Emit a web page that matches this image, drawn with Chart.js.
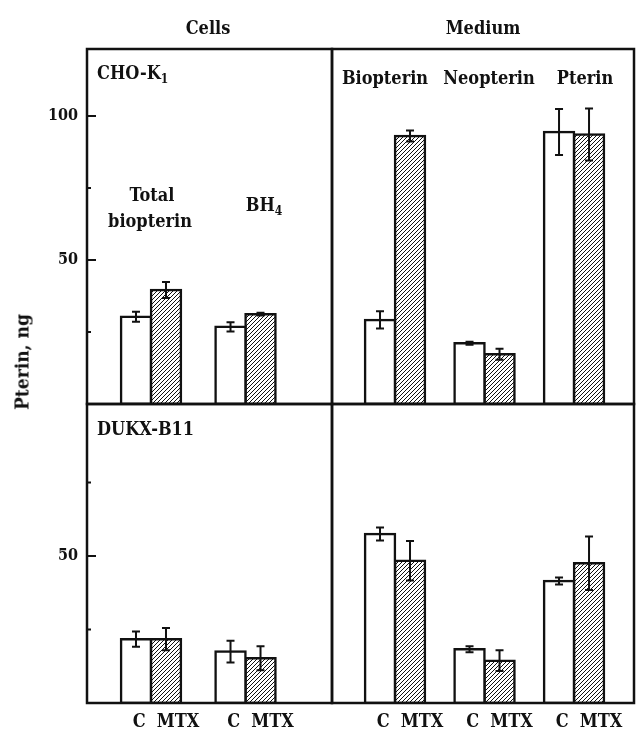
<!DOCTYPE html>
<html lang="en">
<head>
<meta charset="UTF-8">
<title>Pterin, ng - CHO-K1 and DUKX-B11</title>
<script src="https://cdn.jsdelivr.net/npm/chart.js"></script>
<style>
  body { margin: 0; background: #fff; }
  #wrap { position: relative; width: 636px; height: 731px; font-family: "DejaVu Serif Condensed", "DejaVu Serif", serif; font-weight: bold; color: #111; }
  #wrap canvas { position: absolute; left: 0; top: 0; }
  .lbl { position: absolute; white-space: nowrap; font-size: 18px; line-height: 1; }
  .c { transform: translateX(-50%); }
  sub { font-size: 12px; vertical-align: -4px; line-height: 0; }
</style>
</head>
<body>
<div id="wrap">
  <canvas id="choCells" width="636" height="731"></canvas>
  <canvas id="choMedium" width="636" height="731"></canvas>
  <canvas id="dukxCells" width="636" height="731"></canvas>
  <canvas id="dukxMedium" width="636" height="731"></canvas>

  <div class="lbl c" style="left:208px; top:19px">Cells</div>
  <div class="lbl c" style="left:483px; top:19px">Medium</div>
  <div class="lbl" style="left:97px; top:64px">CHO-K<sub>1</sub></div>
  <div class="lbl c" style="left:385px; top:69px">Biopterin</div>
  <div class="lbl c" style="left:489px; top:69px">Neopterin</div>
  <div class="lbl c" style="left:585px; top:69px">Pterin</div>
  <div class="lbl c" style="left:152px; top:186px">Total</div>
  <div class="lbl c" style="left:150px; top:212px">biopterin</div>
  <div class="lbl c" style="left:264px; top:196px">BH<sub>4</sub></div>
  <div class="lbl" style="left:97px; top:420px">DUKX-B11</div>
  <div class="lbl" style="left:22px; top:362px; font-size:19px; transform: translate(-50%, -50%) rotate(-90deg);">Pterin, ng</div>
</div>

<script>
    // categories
    const cellGroups = ["Total biopterin", "BH4"];
    const mediumGroups = ["Biopterin", "Neopterin", "Pterin"];
    const treatLabels = ["C", "MTX"];
    const topTicks = [25, 50, 75, 100];
    const bottomTicks = [25, 50, 75];
    const labeledTicks = [50, 100];

    // CHO-K1 (ng)
    const choCellsC = [30.3, 26.8];
    const choCellsCErr = [1.7, 1.6];
    const choCellsMTX = [39.6, 31.2];
    const choCellsMTXErr = [2.8, 0.5];
    const choMediumC = [29.2, 21.1, 94.5];
    const choMediumCErr = [3.0, 0.5, 8.0];
    const choMediumMTX = [93.1, 17.3, 93.6];
    const choMediumMTXErr = [1.9, 1.9, 9.0];

    // DUKX-B11 (ng)
    const dukxCellsC = [21.7, 17.5];
    const dukxCellsCErr = [2.6, 3.7];
    const dukxCellsMTX = [21.7, 15.2];
    const dukxCellsMTXErr = [3.8, 4.1];
    const dukxMediumC = [57.5, 18.3, 41.5];
    const dukxMediumCErr = [2.2, 1.0, 1.2];
    const dukxMediumMTX = [48.4, 14.4, 47.5];
    const dukxMediumMTXErr = [6.7, 3.5, 9.1];

    const ink = "#111";
    const serif = "'DejaVu Serif Condensed', 'DejaVu Serif', serif";

    function makeHatch() {
        const c = document.createElement("canvas");
        c.width = 4; c.height = 4;
        const g = c.getContext("2d");
        g.fillStyle = "#fff";
        g.fillRect(0, 0, 4, 4);
        g.strokeStyle = ink;
        g.lineWidth = 1.0;
        g.beginPath();
        g.moveTo(-1, 5); g.lineTo(5, -1);
        g.moveTo(-1, 1); g.lineTo(1, -1);
        g.moveTo(3, 5); g.lineTo(5, 3);
        g.stroke();
        return g.createPattern(c, "repeat");
    }
    const hatch = makeHatch();

    // vertical error bars with caps
    const errorBars = {
        id: "errorBars",
        afterDatasetsDraw(chart) {
            const ctx = chart.ctx;
            const y = chart.scales.y;
            ctx.save();
            ctx.strokeStyle = ink;
            ctx.lineWidth = 2;
            chart.data.datasets.forEach((ds, i) => {
                chart.getDatasetMeta(i).data.forEach((bar, j) => {
                    const v = ds.data[j].y, e = ds.errors[j];
                    const top = y.getPixelForValue(v + e);
                    const bot = y.getPixelForValue(v - e);
                    ctx.beginPath();
                    ctx.moveTo(bar.x, top); ctx.lineTo(bar.x, bot);
                    ctx.moveTo(bar.x - 4, top); ctx.lineTo(bar.x + 4, top);
                    ctx.moveTo(bar.x - 4, bot); ctx.lineTo(bar.x + 4, bot);
                    ctx.stroke();
                });
            });
            ctx.restore();
        }
    };

    // box around each panel + inward ticks on the left axis
    const panelFrame = {
        id: "panelFrame",
        afterDraw(chart, args, opts) {
            const ctx = chart.ctx;
            const a = chart.chartArea;
            ctx.save();
            ctx.strokeStyle = ink;
            ctx.lineWidth = 2.5;
            ctx.strokeRect(a.left, a.top, a.right - a.left, a.bottom - a.top);
            if (opts.ticks) {
                const y = chart.scales.y;
                ctx.lineWidth = 2;
                ctx.beginPath();
                opts.ticks.forEach(t => {
                    const py = y.getPixelForValue(t);
                    const len = labeledTicks.includes(t) ? 9 : 4;
                    ctx.moveTo(a.left, py);
                    ctx.lineTo(a.left + len, py);
                });
                ctx.stroke();
            }
            ctx.restore();
        }
    };

    function makePanel(id, groups, cVals, cErr, mVals, mErr, cfg) {
        new Chart(document.getElementById(id), {
            type: "bar",
            data: {
                datasets: [
                    {
                        label: treatLabels[0],
                        data: cVals.map((v, i) => ({ x: i, y: v })),
                        errors: cErr,
                        backgroundColor: "#fff"
                    },
                    {
                        label: treatLabels[1],
                        data: mVals.map((v, i) => ({ x: i, y: v })),
                        errors: mErr,
                        backgroundColor: hatch
                    }
                ]
            },
            options: {
                responsive: false,
                animation: false,
                devicePixelRatio: 1,
                layout: { padding: cfg.padding },
                datasets: {
                    bar: {
                        barThickness: 30,
                        borderColor: ink,
                        borderWidth: 2.5,
                        inflateAmount: 1.25,
                        borderSkipped: false
                    }
                },
                scales: {
                    x: {
                        type: "linear",
                        offset: false,
                        min: cfg.xMin,
                        max: cfg.xMax,
                        display: cfg.showX,
                        grid: { display: false, drawTicks: false, offset: false },
                        border: { display: false },
                        afterBuildTicks: s => { s.ticks = groups.map((g, i) => ({ value: i })); },
                        afterFit: s => { if (cfg.showX) s.height = 28; },
                        ticks: {
                            autoSkip: false,
                            maxRotation: 0,
                            padding: 9,
                            labelOffset: 15,
                            color: ink,
                            font: { family: serif, size: 18, weight: "bold" },
                            callback: () => treatLabels.join("  ")
                        }
                    },
                    y: {
                        min: 0,
                        max: cfg.yMax,
                        display: cfg.showY,
                        grid: { display: false, drawTicks: false },
                        border: { display: false },
                        afterBuildTicks: s => { s.ticks = cfg.ticks.map(t => ({ value: t })); },
                        afterFit: s => { if (cfg.showY) s.width = 87; },
                        ticks: {
                            padding: 9,
                            color: ink,
                            font: { family: serif, size: 16, weight: "bold" },
                            callback: v => labeledTicks.includes(v) ? String(v) : ""
                        }
                    }
                },
                plugins: {
                    legend: { display: false },
                    tooltip: { enabled: false },
                    panelFrame: { ticks: cfg.showY ? cfg.ticks : null }
                }
            },
            plugins: [errorBars, panelFrame]
        });
    }

    makePanel("choCells", cellGroups, choCellsC, choCellsCErr, choCellsMTX, choCellsMTXErr, {
        padding: { left: 0, top: 49, right: 304, bottom: 327 },
        xMin: -0.677, xMax: 1.915, yMax: 123.3, ticks: topTicks, showX: false, showY: true
    });
    makePanel("choMedium", mediumGroups, choMediumC, choMediumCErr, choMediumMTX, choMediumMTXErr, {
        padding: { left: 332, top: 49, right: 2, bottom: 327 },
        xMin: -0.704, xMax: 2.67, yMax: 123.3, ticks: topTicks, showX: false, showY: false
    });
    makePanel("dukxCells", cellGroups, dukxCellsC, dukxCellsCErr, dukxCellsMTX, dukxCellsMTXErr, {
        padding: { left: 0, top: 404, right: 304, bottom: 0 },
        xMin: -0.677, xMax: 1.915, yMax: 101.7, ticks: bottomTicks, showX: true, showY: true
    });
    makePanel("dukxMedium", mediumGroups, dukxMediumC, dukxMediumCErr, dukxMediumMTX, dukxMediumMTXErr, {
        padding: { left: 332, top: 404, right: 2, bottom: 0 },
        xMin: -0.704, xMax: 2.67, yMax: 101.7, ticks: bottomTicks, showX: true, showY: false
    });
</script>
</body>
</html>
